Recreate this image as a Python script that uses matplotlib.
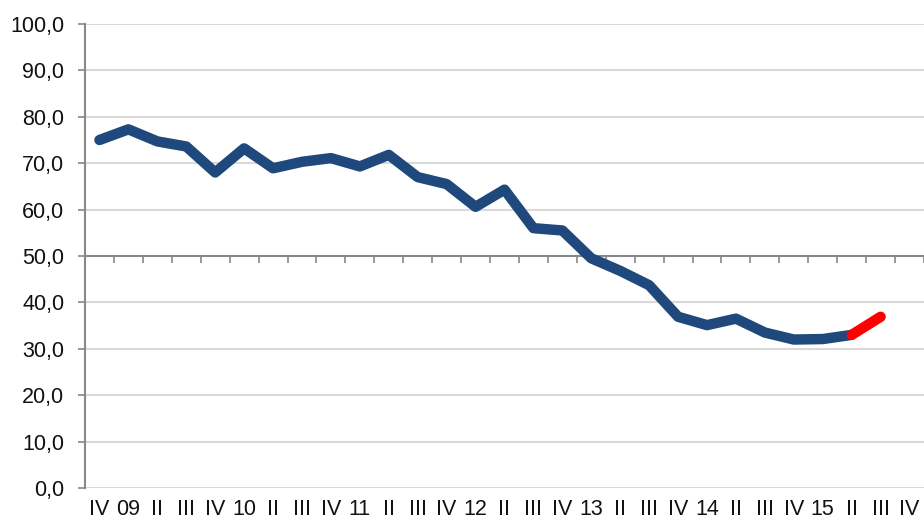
import matplotlib
matplotlib.use("Agg")
import matplotlib.pyplot as plt
import numpy as np

plt.rcParams['font.family'] = ['Liberation Sans', 'DejaVu Sans']

categories = ["IV", "09", "II", "III", "IV", "10", "II", "III", "IV", "11", "II", "III",
              "IV", "12", "II", "III", "IV", "13", "II", "III", "IV", "14", "II", "III",
              "IV", "15", "II", "III", "IV"]
values_main = [75.0, 77.3, 74.7, 73.6, 68.0, 73.2, 68.9, 70.3, 71.1, 69.3, 71.8, 67.0,
               65.5, 60.6, 64.3, 56.0, 55.5, 49.5, 46.8, 43.7, 36.9, 35.1, 36.5, 33.5,
               32.0, 32.1, 33.0]
values_forecast = [33.0, 36.9]  # last observed point and projection

yticks = np.arange(0, 101, 10)

fig = plt.figure(figsize=(9.24, 5.24), dpi=100)
ax = fig.add_axes([85/924, 36/524, 839/924, 464/524])

n = len(categories)
centers = np.arange(n) + 0.5
ax.set_xlim(0, n)
ax.set_ylim(0, 100)

# gridlines
for y in yticks:
    if y != 50:
        ax.axhline(y, color='#d9d9d9', lw=1.5, zorder=0)

ax.plot(centers[:len(values_main)], values_main, color='#1F497D', lw=7.5,
        solid_capstyle='round', solid_joinstyle='round', zorder=3)
start = len(values_main) - 1
ax.plot(centers[start:start + len(values_forecast)], values_forecast, color='#FF0000', lw=7.5,
        solid_capstyle='round', solid_joinstyle='round', zorder=4)

# y axis
ax.set_yticks(yticks)
ax.set_yticklabels([f"{v:.1f}".replace('.', ',') for v in yticks], fontsize=15.5, color='#111111')
ax.tick_params(axis='y', length=5, width=1.2, color='#888888', pad=10)
ax.spines['left'].set_color('#888888')
ax.spines['left'].set_linewidth(1.5)
ax.spines['right'].set_visible(False)
ax.spines['top'].set_visible(False)

# category axis crossing at 50
ax.spines['bottom'].set_position(('data', 50))
ax.spines['bottom'].set_color('#888888')
ax.spines['bottom'].set_linewidth(1.5)
ax.set_xticks(np.arange(1, n + 1))
ax.set_xticklabels([])
ax.tick_params(axis='x', length=5, width=1.2, color='#888888', direction='out')

sec = ax.secondary_xaxis(0)
sec.set_xticks(centers)
sec.set_xticklabels(categories, fontsize=15.5, color='#111111')
sec.tick_params(length=0, pad=8)
sec.spines['bottom'].set_visible(False)

fig.savefig("out.png", dpi=100)
